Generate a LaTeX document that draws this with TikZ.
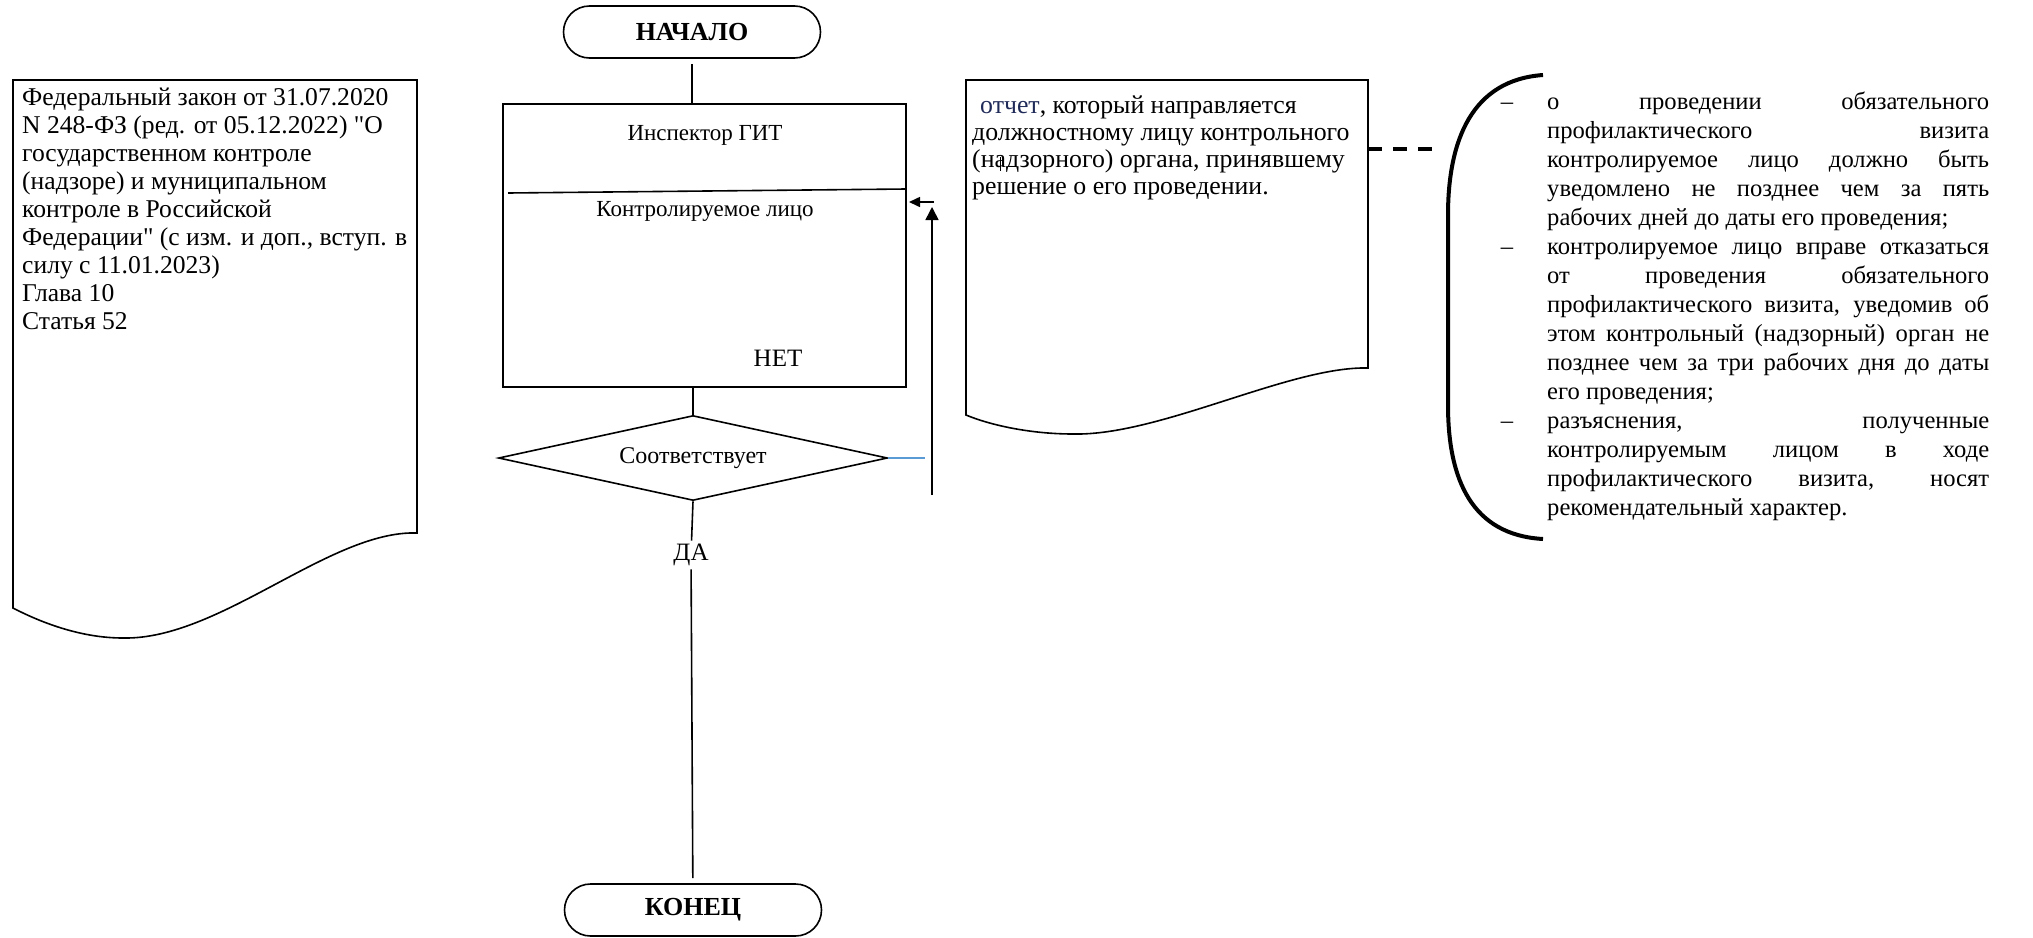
\documentclass[tikz,border=0pt]{standalone}
\usepackage{fontspec}
\setmainfont{Liberation Serif}[Ligatures=TeXOff]
\usetikzlibrary{arrows.meta,shapes,positioning}
\definecolor{reportblue}{RGB}{31,42,88}
\definecolor{linkblue}{RGB}{91,155,213}
\newcommand{\qmark}{\symbol{34}}

\begin{document}
\begin{tikzpicture}[x=1pt, y=-1pt,
        terminal/.style = {draw, rounded rectangle, line width = 1.6pt, minimum width = 257pt,
                           minimum height = 52pt, inner sep = 0pt, font = \fontsize{26}{28}\selectfont\bfseries},
        process/.style = {draw, rectangle, line width = 1.6pt, minimum width = 403pt, minimum height = 283pt},
        decision/.style = {draw, diamond, aspect = 4.6, line width = 1.6pt, minimum width = 389pt,
                           minimum height = 85pt, inner sep = 0pt, font = \fontsize{24}{28}\selectfont},
        lbl/.style = {font = \fontsize{23}{27}\selectfont},
        doctext/.style = {anchor = north west, align = left, inner sep = 0pt},
        docline/.style = {line width = 1.6pt},
        flow/.style = {line width = 1.6pt},
        dashlink/.style = {line width = 4pt, dash pattern = on 14pt off 11pt},
        brace_line/.style = {line width = 4pt},
        >={Triangle[length=13pt, width=13pt]}]
    \useasboundingbox (0,0) rectangle (2033,937);
    %law document
    \draw[docline] (13,80) -- (417,80) -- (417,533)
        .. controls (330,530) and (220,640) .. (123,638)
        .. controls (80,638) and (40,622) .. (13,608) -- cycle;
    \node[doctext, font = \fontsize{25.6}{28}\selectfont] (law) at (22,88)
        {Федеральный закон от 31.07.2020\\
         N 248-ФЗ (ред. от 05.12.2022) \qmark О\\
         государственном контроле\\
         (надзоре) и муниципальном\\
         контроле в Российской\\
         Федерации\qmark{} (с изм. и доп., вступ. в\\
         силу с 11.01.2023)\\
         Глава 10\\
         Статья 52};
    %flow
    \node[terminal] (start) at (692,32) {НАЧАЛО};
    \node[process] (proc) at (704.5,245.5) {};
    \draw[flow] (508,193) -- (906,189);
    \node[lbl] (insp) at (705,135) {Инспектор ГИТ};
    \node[lbl] (ctrl) at (705,211) {Контролируемое лицо};
    \node[lbl, font = \fontsize{25}{28}\selectfont] (no) at (778,358) {НЕТ};
    \node[decision] (check) at (693,458) {Соответствует};
    \node[lbl, font = \fontsize{25}{28}\selectfont] (yes) at (691,555) {ДА};
    \node[terminal] (end) at (693,910) {КОНЕЦ};
    \draw[flow, shorten <= 5pt] (start.south) -- (start.south |- proc.north);
    \draw[flow] (check.north |- proc.south) -- (check.north);
    \draw[flow] (check.south) -- (yes);
    \draw[flow, shorten >= 5pt] (yes) -- (end);
    %loop back
    \coordinate (up-s) at (932,495);
    \coordinate (up-e) at (932,207);
    \coordinate (back-s) at (934,202);
    \coordinate (back-e) at (909,202);
    \draw[color = linkblue, line width = 1.6pt] (check.east) -- ++(37,0);
    \draw[flow, ->] (up-s) -- (up-e);
    \draw[flow, -{Triangle[length=11pt, width=10pt]}] (back-s) -- (back-e);
    %report document
    \draw[docline] (966,80) -- (1368,80) -- (1368,368)
        .. controls (1290,366) and (1160,436) .. (1073,434)
        .. controls (1030,434) and (990,425) .. (966,415) -- cycle;
    \node[doctext, font = \fontsize{25.8}{27}\selectfont] (report) at (972,96)
        {\hspace*{8pt}{\color{reportblue}отчет}, который направляется\\
         должностному лицу контрольного\\
         (надзорного) органа, принявшему\\
         решение о его проведении.};
    \draw[line width = 1pt] (1000,157) -- (1000,171);
    %rules
    \coordinate (rep-e) at (1368,149);
    \coordinate (br-w) at (1437,149);
    \draw[dashlink] (rep-e) -- (br-w);
    \draw[brace_line] (1543,75) .. controls (1472,80) and (1448,140) .. (1448,215)
        -- (1448,405) .. controls (1448,480) and (1472,535) .. (1543,539);
    \node[anchor = north west, inner sep = 0pt, text width = 442pt, align = justify,
          font = \fontsize{24.6}{29}\selectfont] (rules) at (1547,92)
        {\hyphenpenalty=10000 \tolerance=10000 \emergencystretch=20pt
         \noindent\llap{–\hspace{34pt}}о проведении обязательного\linebreak
         профилактического визита\linebreak
         контролируемое лицо должно быть\linebreak
         уведомлено не позднее чем за пять\linebreak
         рабочих дней до даты его проведения;\par
         \noindent\llap{–\hspace{34pt}}контролируемое лицо вправе отказаться\linebreak
         от проведения обязательного\linebreak
         профилактического визита, уведомив об\linebreak
         этом контрольный (надзорный) орган не\linebreak
         позднее чем за три рабочих дня до даты\linebreak
         его проведения;\par
         \noindent\llap{–\hspace{34pt}}разъяснения, полученные\linebreak
         контролируемым лицом в ходе\linebreak
         профилактического визита, носят\linebreak
         рекомендательный характер.};
\end{tikzpicture}
\end{document}
